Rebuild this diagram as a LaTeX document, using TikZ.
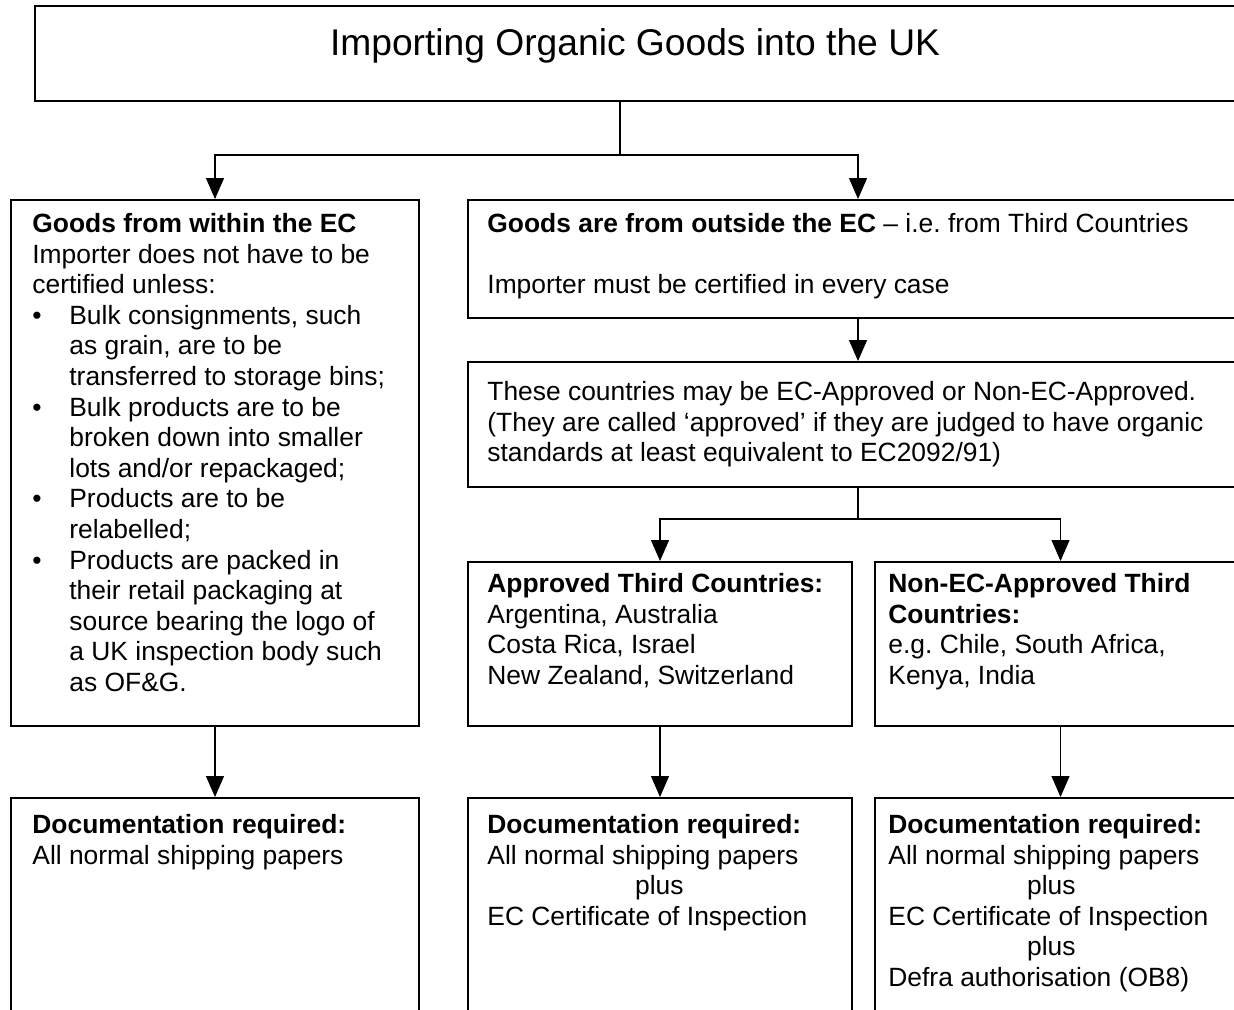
\documentclass[tikz,border=0pt]{standalone}
\usepackage{fontspec}
\setmainfont{Liberation Sans}
\usetikzlibrary{arrows.meta,positioning,fit,calc}

\newcommand{\bul}{\makebox[18.5pt][l]{•}}
\newcommand{\ind}{\hspace*{18.5pt}}

\begin{document}
\frenchspacing
\begin{tikzpicture}[x=0.5pt,y=-0.5pt,
  box/.style={draw,line width=1pt,inner sep=0pt},
  txt/.style={anchor=north west,inner sep=0pt,align=left,
    font=\fontsize{13.2}{15.3}\selectfont\frenchspacing},
  link/.style={line width=0.6pt},
  arr/.style={link,-{Triangle[width=9pt,length=10.5pt]}}]
\useasboundingbox (0,0) rectangle (1234,1009);
\clip (0,0) rectangle (1234,1009);

% boxes
\node[box,fit={(35,6) (1240,101)}] (head) {};
\node[box,fit={(11,200) (419,726)}] (within) {};
\node[box,fit={(468,200) (1248,318)}] (outside) {};
\node[box,fit={(468,362) (1248,487)}] (countries) {};
\node[box,fit={(468,562) (852,726)}] (approved) {};
\node[box,fit={(875,562) (1246,726)}] (nonec) {};
\node[box,fit={(11,798) (419,1040)}] (docwithin) {};
\node[box,fit={(468,798) (852,1040)}] (docapproved) {};
\node[box,fit={(875,798) (1246,1040)}] (docnonec) {};

% texts
\node[anchor=base,inner sep=0pt,font=\fontsize{18.6}{22}\selectfont] (title) at (635,55)
  {Importing Organic Goods into the UK};
\node[txt] (withintxt) at ($(within.north west)+(22,14)$) {%
  \textbf{Goods from within the EC}\\
  Importer does not have to be\\
  certified unless:\\
  \bul Bulk consignments, such\\
  \ind as grain, are to be\\
  \ind transferred to storage bins;\\
  \bul Bulk products are to be\\
  \ind broken down into smaller\\
  \ind lots and/or repackaged;\\
  \bul Products are to be\\
  \ind relabelled;\\
  \bul Products are packed in\\
  \ind their retail packaging at\\
  \ind source bearing the logo of\\
  \ind a UK inspection body such\\
  \ind as OF\&G.};
\node[txt] (outsidetxt) at ($(outside.north west)+(20,14)$) {%
  \textbf{Goods are from outside the EC} -- i.e. from Third Countries\\[15.3pt]
  Importer must be certified in every case};
\node[txt] (countriestxt) at ($(countries.north west)+(20,20)$) {%
  These countries may be EC-Approved or Non-EC-Approved.\\
  (They are called `approved' if they are judged to have organic\\
  standards at least equivalent to EC2092/91)};
\node[txt] (approvedtxt) at ($(approved.north west)+(20,12)$) {%
  \textbf{Approved Third Countries:}\\
  Argentina, Australia\\
  Costa Rica, Israel\\
  New Zealand, Switzerland};
\node[txt] (nonectxt) at ($(nonec.north west)+(14,12)$) {%
  \textbf{Non-EC-Approved Third}\\
  \textbf{Countries:}\\
  e.g. Chile, South Africa,\\
  Kenya, India};
\node[txt] (docwithintxt) at ($(docwithin.north west)+(22,17)$) {%
  \textbf{Documentation required:}\\
  All normal shipping papers};
\node[txt] (docapprovedtxt) at ($(docapproved.north west)+(20,17)$) {%
  \textbf{Documentation required:}\\
  All normal shipping papers\\
  \makebox[172pt]{plus}\\
  EC Certificate of Inspection};
\node[txt] (docnonectxt) at ($(docnonec.north west)+(14,17)$) {%
  \textbf{Documentation required:}\\
  All normal shipping papers\\
  \makebox[163pt]{plus}\\
  EC Certificate of Inspection\\
  \makebox[163pt]{plus}\\
  Defra authorisation (OB8)};

% connectors
\coordinate (split) at (620,155);
\draw[link] (head.south -| split) -- (split);
\draw[arr] (split) -| (within.north);
\draw[arr] (split) -| (outside.north);
\draw[arr] (outside.south) -- (countries.north);
\draw[link] (countries.south) -- ++(0,31) coordinate (fork);
\draw[arr] (fork) -| (approved.north);
\draw[arr] (fork) -| (nonec.north);
\draw[arr] (within.south) -- (docwithin.north);
\draw[arr] (approved.south) -- (docapproved.north);
\draw[arr] (nonec.south) -- (docnonec.north);
\end{tikzpicture}
\end{document}
